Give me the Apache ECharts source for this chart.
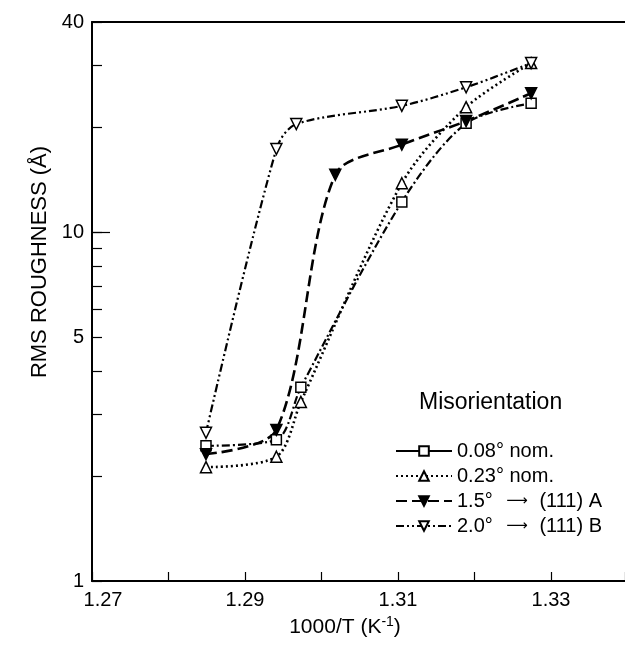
<!DOCTYPE html>
<html>
<head>
<meta charset="utf-8">
<script src="https://cdn.jsdelivr.net/npm/echarts@6/dist/echarts.min.js"></script>
<style>
html,body{margin:0;padding:0;background:#fff;}
#chart{width:625px;height:649px;}
</style>
</head>
<body>
<div id="chart"></div>
<script>
// ---- data ----
const seriesNames = ['0.08° nom.', '0.23° nom.', '1.5° {a|\u27F6} (111) A', '2.0° {a|\u27F6} (111) B'];
const s008 = [[1.2849, 2.44], [1.2941, 2.54], [1.2973, 3.59], [1.3105, 12.2], [1.3189, 20.5], [1.3274, 23.4]];
const s023 = [[1.2849, 2.12], [1.2941, 2.27], [1.2973, 3.26], [1.3105, 13.8], [1.3189, 22.8], [1.3274, 30.5]];
const s15  = [[1.2849, 2.31], [1.2941, 2.71], [1.3018, 14.6], [1.3105, 17.8], [1.3189, 20.8], [1.3274, 25.0]];
const s20  = [[1.2849, 2.66], [1.2941, 17.3], [1.2967, 20.4], [1.3105, 23.0], [1.3189, 26.0], [1.3274, 30.5]];
const yLabelValues = [1, 5, 10, 40];
const yTickValues = [1, 2, 3, 4, 5, 6, 7, 8, 9, 10, 20, 30, 40];
const yLongTicks = [10];
const xLabelValues = [1.27, 1.29, 1.31, 1.33];

const FONT = '"Liberation Sans", Arial, Helvetica, sans-serif';
const chart = echarts.init(document.getElementById('chart'));

const xMin = 1.27, xMax = 1.33967;
function mkSeries(name, data, symbol, rotate, fill, dash, width, smooth) {
  return {
    name: name, type: 'line', data: data, smooth: smooth,
    symbol: symbol, symbolSize: symbol === 'rect' ? 10 : 11, symbolRotate: rotate,
    lineStyle: {color: '#000', width: width, type: dash, cap: 'butt'},
    itemStyle: {color: fill, borderColor: '#000', borderWidth: 1.5},
    z: 3
  };
}

chart.setOption({
  animation: false,
  backgroundColor: '#fff',
  grid: {left: 92, top: 22, right: 0, bottom: 68, show: false},
  xAxis: [{
    type: 'value', min: xMin, max: xMax, interval: 0.01, position: 'bottom',
    axisLine: {show: true, lineStyle: {color: '#000', width: 2}},
    axisTick: {show: true, inside: true, length: 9, lineStyle: {color: '#000', width: 1.2}},
    axisLabel: {customValues: xLabelValues,
      formatter: v => (Math.abs(v - xLabelValues[0]) < 1e-6 ? '{f|' + v.toFixed(2) + '}' : v.toFixed(2)),
      rich: {f: {padding: [0, 0, 0, 22], fontFamily: FONT, fontSize: 20, color: '#000'}},
      color: '#000', fontFamily: FONT, fontSize: 20, margin: 9},
    splitLine: {show: false}
  }, {
    type: 'value', min: xMin, max: xMax, position: 'top',
    axisLine: {show: true, lineStyle: {color: '#000', width: 2}},
    axisTick: {show: false}, axisLabel: {show: false}, splitLine: {show: false}
  }],
  yAxis: [{
    type: 'log', logBase: 10, min: 1, max: 40, position: 'left',
    axisLine: {show: true, lineStyle: {color: '#000', width: 2}},
    axisTick: {show: true, inside: true, length: 10, customValues: yTickValues, lineStyle: {color: '#000', width: 1.2}},
    axisLabel: {customValues: yLabelValues, color: '#000', fontFamily: FONT, fontSize: 20, margin: 8},
    splitLine: {show: false}, minorTick: {show: false}
  }, {
    type: 'log', logBase: 10, min: 1, max: 40, position: 'left',
    axisLine: {show: false},
    axisTick: {show: true, inside: true, length: 18, customValues: yLongTicks, lineStyle: {color: '#000', width: 1.2}},
    axisLabel: {show: false}, splitLine: {show: false}
  }],
  legend: {
    orient: 'vertical', left: 390, top: 436, itemWidth: 56, itemHeight: 12, itemGap: 5,
    textStyle: {color: '#000', fontFamily: FONT, fontSize: 20,
      rich: {a: {fontFamily: '"DejaVu Sans", sans-serif', fontSize: 15, color: '#000', padding: [0, 6, 0, 8]}}},
    data: [
      {name: seriesNames[0], lineStyle: {type: 'solid'}},
      {name: seriesNames[1]},
      {name: seriesNames[2]},
      {name: seriesNames[3]}
    ]
  },
  graphic: [
    {type: 'text', left: 419, top: 391, style: {text: 'Misorientation', font: '23px ' + FONT, fill: '#000'}},
    {type: 'text', x: 40, y: 262, rotation: Math.PI / 2, style: {text: 'RMS ROUGHNESS (Å)', font: '22px ' + FONT, fill: '#000', align: 'center', verticalAlign: 'middle'}},
    {type: 'text', x: 345, y: 627, style: {
      text: '1000/T (K{sup|-1})', align: 'center', verticalAlign: 'middle', font: '21px ' + FONT, fill: '#000',
      rich: {sup: {font: '14px ' + FONT, fill: '#000', verticalAlign: 'top', padding: [0, 0, 10, 0]}}
    }}
  ],
  series: [
    mkSeries(seriesNames[0], s008, 'rect', 0, '#fff', [8, 3, 2, 3], 2.2, 0.3),
    mkSeries(seriesNames[1], s023, 'triangle', 0, '#fff', [2, 3], 2.6, 0.3),
    mkSeries(seriesNames[2], s15, 'triangle', 180, '#000', [11, 5], 2.6, 0.3),
    mkSeries(seriesNames[3], s20, 'triangle', 180, '#fff', [8, 3, 2, 3, 2, 3], 2.2, 0.3)
  ]
});
</script>
</body>
</html>
